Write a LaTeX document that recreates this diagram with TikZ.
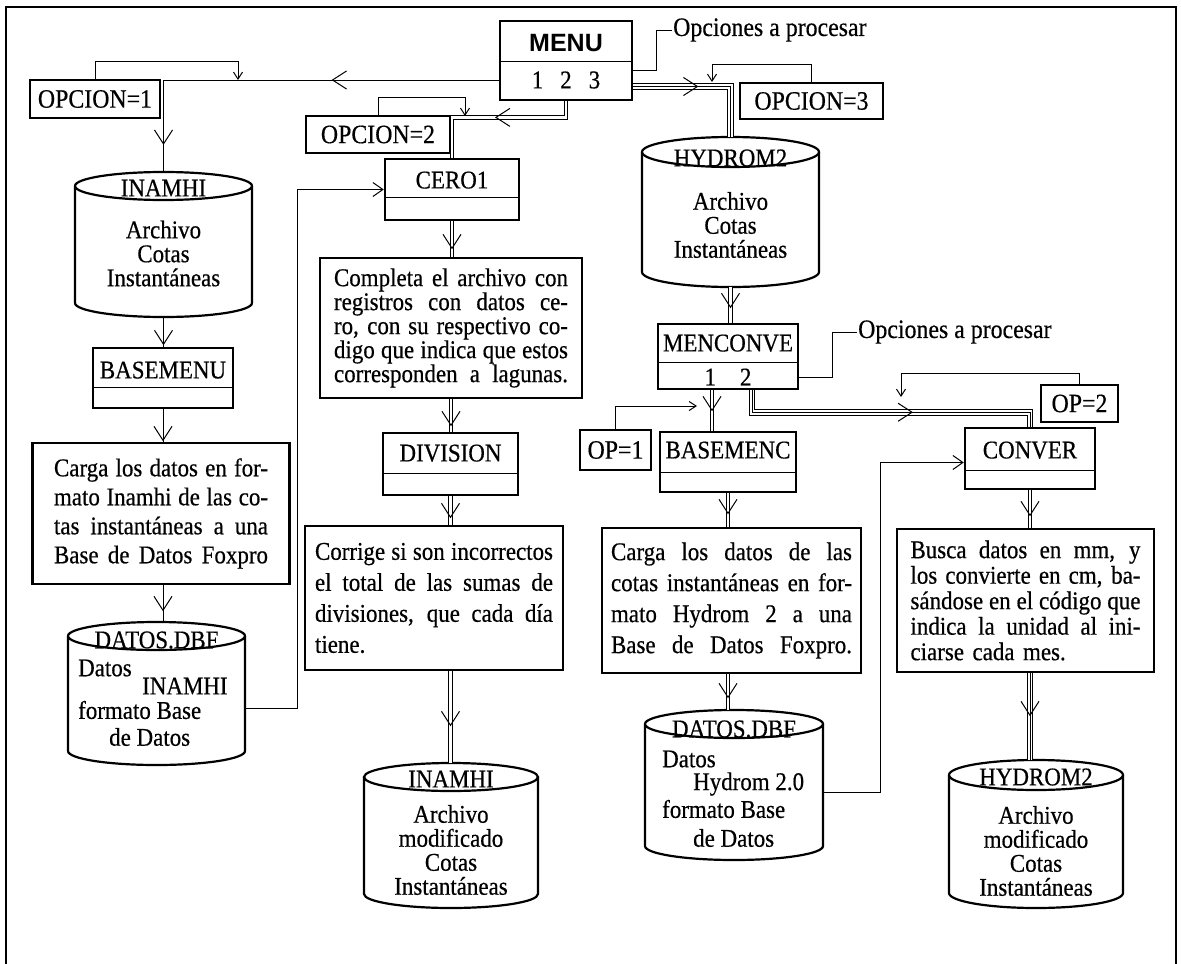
\documentclass[tikz,border=0pt]{standalone}
\usepackage{fontspec}
\setmainfont{Liberation Serif}[FakeStretch=0.9, FakeBold=0.5]
\newfontfamily\sansbold{Liberation Sans}
\usetikzlibrary{arrows.meta,calc,decorations.markings}
\newlength\jlw
\newcommand\jl[1]{\makebox[\jlw][s]{\spaceskip=0.22em plus 1fil\relax #1}}
% name x1 x2 top bottom divider textcenter text
\newcommand\twobox[8]{%
  \pgfmathsetmacro\tbX{(#2+#3)/2}%
  \pgfmathsetmacro\tbY{(#4+#5)/2}%
  \pgfmathsetmacro\tbW{#3-#2}%
  \pgfmathsetmacro\tbT{#7+8.4-#4}%
  \pgfmathsetmacro\tbD{#5-#7-8.4}%
  \node[pbox, minimum width=\tbW pt, text height=\tbT pt, text depth=\tbD pt] (#1) at (\tbX,\tbY) {#8};
  \draw[divline] (#1.west |- 0,#6) -- (#1.east |- 0,#6);
}
% name x1 x2 top bottom ry
\newcommand\mycyl[6]{%
  \pgfmathsetmacro\cyX{(#2+#3)/2}%
  \pgfmathsetmacro\cyY{(#4+#5)/2}%
  \pgfmathsetmacro\cyW{#3-#2}%
  \pgfmathsetmacro\cyH{#5-#4}%
  \pgfmathsetmacro\cyR{(#3-#2)/2}%
  \pgfmathsetmacro\cyA{#4+#6}%
  \pgfmathsetmacro\cyB{#5-#6}%
  \pgfmathsetmacro\cyC{#5-#6+0.552*#6}%
  \pgfmathsetmacro\cyL{\cyX-0.552*\cyR}%
  \pgfmathsetmacro\cyM{\cyX+0.552*\cyR}%
  \node[cylnode, minimum width=\cyW pt, minimum height=\cyH pt] (#1) at (\cyX,\cyY) {};
  \draw[cylline] (\cyX,\cyA) ellipse [x radius=\cyR pt, y radius=#6pt];
  \draw[cylline] (#2,\cyA) -- (#2,\cyB) .. controls (#2,\cyC) and (\cyL,#5) .. (\cyX,#5)
     .. controls (\cyM,#5) and (#3,\cyC) .. (#3,\cyB) -- (#3,\cyA);
}
\begin{document}
\begin{tikzpicture}[x=1pt,y=-1pt,
  vtip/.tip={Straight Barb[length=14pt,width=18pt,line width=1pt]},
  every node/.append style={font=\fontsize{25.5}{26}\selectfont},
  frameline/.style={line width=1.2pt},
  pbox/.style={draw, line width=2.5pt, inner sep=0pt},
  lbox/.style={draw, line width=1.2pt, inner sep=0pt, font=\fontsize{26.5}{28}\selectfont},
  tbox/.style={draw, line width=2.5pt, inner sep=0pt, align=left},
  cylnode/.style={inner sep=0pt},
  cylline/.style={line width=2.2pt},
  divline/.style={line width=1pt},
  conn/.style={line width=1pt},
  dbl/.style={line width=0.9pt, double, double distance=2.6pt},
  trip/.style={line width=0.9pt, double, double distance=4.8pt},
  smallarr/.style={conn, -{Straight Barb[length=7pt,width=9pt,line width=1pt]}},
  entryarr/.style={conn, -{Straight Barb[length=10pt,width=14pt,line width=1pt]}},
  midarr/.style={decorate, decoration={markings, mark=at position #1 with {\arrow{vtip}}}},
  midarrtwo/.style 2 args={decorate, decoration={markings,
      mark=at position #1 with {\arrow{vtip}}, mark=at position #2 with {\arrow{vtip}}}},
  cyltxt/.style={font=\fontsize{25.5}{24}\selectfont, inner sep=0pt},
  optlbl/.style={font=\fontsize{26.5}{28}\selectfont, inner sep=1pt, anchor=west}
]
\useasboundingbox (0,0) rectangle (1181,964);

% frame
\draw[frameline] (6,964) -- (6,7) -- (1176,7) -- (1176,964);

% ---------- MENU ----------
\node[pbox, line width=2.8pt, font=\sansbold\bfseries\fontsize{25}{28}\selectfont,
      minimum width=132pt, text height=30pt, text depth=49pt] (menu) at (566,60.5) {MENU};
\draw[divline] (menu.west |- 0,61) -- (menu.east |- 0,61);
\node (menuopts) at (566,80) {1\hspace{17pt}2\hspace{17pt}3};
\node[optlbl] (optxt1) at (672,30) {Opciones a procesar};
\draw[conn] ($(menu.east)+(0,9.5)$) -- ++(23,0) |- (optxt1.west);

% ---------- labels ----------
\node[lbox, minimum width=130pt, minimum height=38pt] (opc1) at (95,99) {OPCION=1};
\node[lbox, minimum width=144pt, minimum height=37pt] (opc2) at (378,134.5) {OPCION=2};
\node[lbox, minimum width=143pt, minimum height=36pt] (opc3) at (811.5,101) {OPCION=3};
\node[lbox, minimum width=71pt, minimum height=40pt] (op1) at (615.5,450) {OP=1};
\node[lbox, minimum width=77pt, minimum height=37pt] (op2) at (1079.5,403.5) {OP=2};

\coordinate (j1) at (238,80);
\coordinate (j2) at (465,116);
\coordinate (j3) at (712,82);
\coordinate (j4) at (697,406);
\coordinate (j5) at (901,397);

% ---------- left column ----------
\mycyl{inamhi}{75}{252}{172}{317}{14}
\node[cyltxt] (inamhiT) at (163.5,188) {INAMHI};
\node[cyltxt, align=center] (inamhiB) at (163.5,253.5) {Archivo\\Cotas\\Instantáneas};

\twobox{basemenu}{93}{233}{348}{408}{387}{370}{BASEMENU}

\setlength\jlw{214pt}
\node[tbox, minimum width=257pt, minimum height=141pt, text width=214pt,
      font=\fontsize{25.5}{29}\selectfont] (carga1) at (161,513.5)
  {\jl{Carga los datos en for-}\\\jl{mato Inamhi de las co-}\\\jl{tas instantáneas a una}\\\jl{Base de Datos Foxpro}};

\mycyl{datos1}{68}{245}{622}{765}{14}
\node[cyltxt] (datos1T) at (156.5,640) {DATOS.DBF};
\node[cyltxt, anchor=west] (datos1a) at (78,668) {Datos};
\node[cyltxt, anchor=west] (datos1b) at (142,686) {INAMHI};
\node[cyltxt, anchor=west] (datos1c) at (78,710) {formato Base};
\node[cyltxt, anchor=west] (datos1d) at (109,737) {de Datos};

% ---------- middle column ----------
\twobox{cero1}{385}{519}{159}{220}{197}{180}{CERO1}

\setlength\jlw{234pt}
\node[tbox, minimum width=262pt, minimum height=140pt, text width=234pt,
      font=\fontsize{25.5}{24}\selectfont] (completa) at (451,328)
  {\jl{Completa el archivo con}\\\jl{registros con datos ce-}\\\jl{ro, con su respectivo co-}\\\jl{digo que indica que estos}\\\jl{corresponden a lagunas.}};

\twobox{division}{383}{518}{433}{495}{473}{453}{DIVISION}

\setlength\jlw{238pt}
\node[tbox, minimum width=258pt, minimum height=144pt, text width=238pt,
      font=\fontsize{25.5}{31}\selectfont] (corrige) at (434,598)
  {\jl{Corrige si son incorrectos}\\\jl{el total de las sumas de}\\\jl{divisiones, que cada día}\\tiene.};

\mycyl{inamhi2}{364}{538}{763}{908}{14}
\node[cyltxt] (inamhi2T) at (451,779) {INAMHI};
\node[cyltxt, align=center] (inamhi2B) at (451,850) {Archivo\\modificado\\Cotas\\Instantáneas};

% ---------- right part ----------
\mycyl{hydrom}{642}{819}{137}{287}{15}
\node[cyltxt] (hydromT) at (730.5,158) {HYDROM2};
\node[cyltxt, align=center] (hydromB) at (730.5,225) {Archivo\\Cotas\\Instantáneas};

\twobox{menconve}{658}{798}{324}{389}{362}{343}{MENCONVE}
\node (mcopts) at (728,377) {1\hspace{24pt}2};
\node[optlbl] (optxt2) at (857,332) {Opciones a procesar};
\draw[conn] (mcopts -| menconve.east) -- ++(33,0) |- (optxt2.west);

\twobox{basemenc}{660}{796}{432}{492}{472}{450}{BASEMENC}

\setlength\jlw{241pt}
\node[tbox, minimum width=259pt, minimum height=145pt, text width=241pt,
      font=\fontsize{25.5}{31}\selectfont] (carga2) at (731.5,600.5)
  {\jl{Carga los datos de las}\\\jl{cotas instantáneas en for-}\\\jl{mato Hydrom 2 a una}\\\jl{Base de Datos Foxpro.}};

\mycyl{datos2}{645}{823}{710}{860}{14}
\node[cyltxt] (datos2T) at (734,729) {DATOS.DBF};
\node[cyltxt, anchor=west] (datos2a) at (662,759) {Datos};
\node[cyltxt, anchor=west] (datos2b) at (693,784) {Hydrom 2.0};
\node[cyltxt, anchor=west] (datos2c) at (662,809) {formato Base};
\node[cyltxt, anchor=west] (datos2d) at (693,838) {de Datos};

\twobox{conver}{965}{1095}{428}{489}{470}{450}{CONVER}

\setlength\jlw{230pt}
\node[tbox, minimum width=257pt, minimum height=143pt, text width=230pt,
      font=\fontsize{25.5}{25.5}\selectfont] (busca) at (1025.5,600.5)
  {\jl{Busca datos en mm, y}\\\jl{los convierte en cm, ba-}\\\jl{sándose en el código que}\\\jl{indica la unidad al ini-}\\ciarse cada mes.};

\mycyl{hydrom2b}{949}{1123}{760}{908}{15}
\node[cyltxt] (hydrom2bT) at (1036,777) {HYDROM2};
\node[cyltxt, align=center] (hydrom2bB) at (1036,851) {Archivo\\modificado\\Cotas\\Instantáneas};

% ---------- connectors ----------
% MENU -> INAMHI (option 1)
\draw[conn] (menuopts -| menu.west) -| (inamhi.north);
\path[midarrtwo={167pt}{400pt}] (menuopts -| menu.west) -| (inamhi.north);
\draw[smallarr] (opc1.north) -- ++(0,-18) -| (j1);

% MENU -> CERO1 (option 2)
\draw[dbl] (menu.south) -- ++(0,16) -| (cero1.north);
\path[midarr=87pt] (menu.south) -- ++(0,16) -| (cero1.north);
\draw[smallarr] (opc2.north) -- ++(0,-18) -| (j2);

% MENU -> HYDROM2 (option 3)
\draw[trip] ($(menu.east)+(0,26)$) -| (hydrom.north);
\draw[conn] ($(menu.east)+(0,26)$) -| (hydrom.north);
\path[midarr=65pt] ($(menu.east)+(0,26)$) -| (hydrom.north);
\draw[smallarr] (opc3.north) -- ++(0,-18) -| (j3);

% left column
\draw[conn] (inamhi.south) -- (inamhi.south |- basemenu.north);
\path[midarr=28pt] (inamhi.south) -- (inamhi.south |- basemenu.north);
\draw[conn] (basemenu.south) -- (basemenu.south |- carga1.north);
\path[midarr=32pt] (basemenu.south) -- (basemenu.south |- carga1.north);
\draw[conn] (basemenu.south |- carga1.south) -- (basemenu.south |- datos1.north);
\path[midarr=26pt] (basemenu.south |- carga1.south) -- (basemenu.south |- datos1.north);
\draw[entryarr] ($(datos1.east)+(0,14.5)$) -- ++(52,0) |- (cero1.west);

% middle column
\draw[dbl] (cero1.south) -- (cero1.south |- completa.north);
\path[midarr=28pt] (cero1.south) -- (cero1.south |- completa.north);
\draw[dbl] (completa.south) -- (completa.south |- division.north);
\path[midarr=27pt] (completa.south) -- (completa.south |- division.north);
\draw[dbl] (division.south) -- (division.south |- corrige.north);
\path[midarr=22pt] (division.south) -- (division.south |- corrige.north);
\draw[dbl] (division.south |- corrige.south) -- (division.south |- inamhi2.north);
\path[midarr=55pt] (division.south |- corrige.south) -- (division.south |- inamhi2.north);

% right part
\draw[dbl] (hydrom.south) -- (hydrom.south |- menconve.north);
\path[midarr=21pt] (hydrom.south) -- (hydrom.south |- menconve.north);
\draw[dbl] ($(menconve.south)+(-16,0)$) -- ($(basemenc.north)+(-16,0)$);
\path[midarr=21pt] ($(menconve.south)+(-16,0)$) -- ($(basemenc.north)+(-16,0)$);
\draw[smallarr] (op1.north) |- (j4);
\draw[dbl] (basemenc.south) -- (basemenc.south |- carga2.north);
\path[midarr=21pt] (basemenc.south) -- (basemenc.south |- carga2.north);
\draw[dbl] (basemenc.south |- carga2.south) -- (basemenc.south |- datos2.north);
\path[midarr=24pt] (basemenc.south |- carga2.south) -- (basemenc.south |- datos2.north);
\draw[entryarr] ($(datos2.east)+(0,7)$) -- ++(57,0) |- ($(conver.west)+(0,4)$);

\draw[trip] ($(menconve.south)+(24,0)$) -- ++(0,22) -| (conver.north);
\draw[conn] ($(menconve.south)+(24,0)$) -- ++(0,22) -| (conver.north);
\path[midarr=183pt] ($(menconve.south)+(24,0)$) -- ++(0,22) -| (conver.north);
\draw[smallarr] (op2.north) -- ++(0,-11) -| (j5);

\draw[dbl] (conver.south) -- (conver.south |- busca.north);
\path[midarr=26pt] (conver.south) -- (conver.south |- busca.north);
\draw[trip] (conver.south |- busca.south) -- (conver.south |- hydrom2b.north);
\draw[conn] (conver.south |- busca.south) -- (conver.south |- hydrom2b.north);
\path[midarr=43pt] (conver.south |- busca.south) -- (conver.south |- hydrom2b.north);
\end{tikzpicture}
\end{document}
